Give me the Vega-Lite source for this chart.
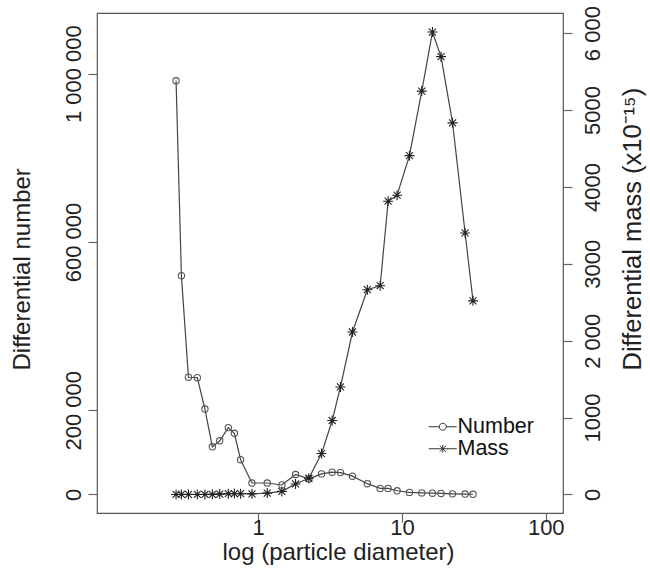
{
  "$schema": "https://vega.github.io/schema/vega-lite/v6.json",
  "width": 466,
  "height": 500,
  "autosize": "none",
  "padding": {"left": 97, "top": 13, "right": 87, "bottom": 60},
  "background": "white",
  "config": {
    "font": "Liberation Sans",
    "view": {"stroke": "#555", "strokeWidth": 1.2},
    "axis": {
      "domain": false, "grid": false,
      "tickColor": "#666", "tickSize": 9, "tickWidth": 1.2,
      "labelFont": "Liberation Sans", "labelFontSize": 22, "labelColor": "#222",
      "titleFont": "Liberation Sans", "titleFontSize": 24, "titleFontWeight": "normal", "titleColor": "#222"
    },
    "legend": {
      "labelFont": "Liberation Sans", "labelFontSize": 21.5, "labelColor": "#111",
      "symbolSize": 400, "symbolStrokeColor": "#333", "symbolFillColor": "transparent", "symbolStrokeWidth": 1,
      "rowPadding": -1, "padding": 0, "labelOffset": 4
    }
  },
  "data": {
    "values": [
      {"d": 0.269, "number": 983000, "mass": 0},
      {"d": 0.293, "number": 520000, "mass": 0},
      {"d": 0.328, "number": 278600, "mass": 0},
      {"d": 0.378, "number": 277500, "mass": 0},
      {"d": 0.427, "number": 203000, "mass": 0},
      {"d": 0.481, "number": 113300, "mass": 2},
      {"d": 0.541, "number": 127600, "mass": 5},
      {"d": 0.621, "number": 158900, "mass": 10},
      {"d": 0.684, "number": 145400, "mass": 12},
      {"d": 0.756, "number": 82700, "mass": 10},
      {"d": 0.906, "number": 27300, "mass": 8},
      {"d": 1.158, "number": 27300, "mass": 18},
      {"d": 1.463, "number": 22600, "mass": 40},
      {"d": 1.821, "number": 47500, "mass": 137},
      {"d": 2.254, "number": 37000, "mass": 211},
      {"d": 2.761, "number": 48900, "mass": 532},
      {"d": 3.275, "number": 53000, "mass": 962},
      {"d": 3.74, "number": 52000, "mass": 1398},
      {"d": 4.53, "number": 43500, "mass": 2113},
      {"d": 5.75, "number": 25700, "mass": 2663},
      {"d": 7.06, "number": 14500, "mass": 2715},
      {"d": 8.02, "number": 14500, "mass": 3814},
      {"d": 9.26, "number": 8800, "mass": 3892},
      {"d": 11.28, "number": 5000, "mass": 4407},
      {"d": 13.74, "number": 3800, "mass": 5246},
      {"d": 16.3, "number": 3000, "mass": 6014},
      {"d": 18.7, "number": 2500, "mass": 5694},
      {"d": 22.5, "number": 1500, "mass": 4833},
      {"d": 27.5, "number": 1000, "mass": 3401},
      {"d": 31.2, "number": 500, "mass": 2518}
    ]
  },
  "encoding": {
    "x": {
      "field": "d", "type": "quantitative",
      "scale": {"type": "log", "domain": [0.07586, 131.8], "nice": false},
      "axis": {
        "values": [1, 10, 100], "labelExpr": "'' + datum.value",
        "labelPadding": -5, "labelBaseline": "top",
        "title": "log (particle diameter)",
        "titleX": 241, "titleY": 46, "titleAlign": "center", "titleBaseline": "alphabetic"
      }
    }
  },
  "layer": [
    {
      "encoding": {
        "y": {
          "field": "number", "type": "quantitative",
          "scale": {"domain": [-44000, 1144000], "nice": false, "zero": false},
          "axis": {
            "orient": "left",
            "values": [0, 200000, 600000, 1000000],
            "labelExpr": "datum.value == 1000000 ? '1 000 000' : datum.value == 600000 ? '600 000' : datum.value == 200000 ? '200 000' : '0'",
            "labelAngle": 270, "labelAlign": "center", "labelBaseline": "alphabetic", "labelPadding": 8,
            "title": "Differential number",
            "titleAngle": 270, "titleX": -75, "titleY": 357, "titleAlign": "left", "titleBaseline": "middle"
          }
        }
      },
      "layer": [
        {"mark": {"type": "line", "color": "#444", "strokeWidth": 1.2}},
        {"mark": {"type": "point", "shape": "circle", "size": 40, "filled": false, "stroke": "#555", "strokeWidth": 1.1, "opacity": 1}}
      ]
    },
    {
      "encoding": {
        "y": {
          "field": "mass", "type": "quantitative",
          "scale": {"domain": [-241, 6262], "nice": false, "zero": false},
          "axis": {
            "orient": "right",
            "values": [0, 1000, 2000, 3000, 4000, 5000, 6000],
            "labelExpr": "datum.value == 2000 ? '2 000' : datum.value == 6000 ? '6 000' : '' + datum.value",
            "labelAngle": 270, "labelAlign": "center", "labelBaseline": "top", "labelPadding": 10,
            "title": "Differential mass (x10⁻¹⁵)",
            "titleFontSize": 25.5,
            "titleAngle": 270, "titleX": 69, "titleY": 357, "titleAlign": "left", "titleBaseline": "middle"
          }
        }
      },
      "layer": [
        {"mark": {"type": "line", "color": "#444", "strokeWidth": 1.2}},
        {"mark": {"type": "point", "shape": "M-1,0H1M0,-1V1M-0.7,-0.7L0.7,0.7M-0.7,0.7L0.7,-0.7", "size": 100, "filled": false, "stroke": "#222", "strokeWidth": 1.1, "opacity": 1}},
        {
          "transform": [{"filter": "false"}],
          "mark": {"type": "point", "filled": false, "color": "#333", "opacity": 1},
          "encoding": {
            "shape": {
              "field": "series", "type": "nominal",
              "scale": {
                "domain": ["Number", "Mass"],
                "range": [
                  "M-1.4,0H-0.35M0.35,0H1.4M0.35,0A0.35,0.35 0 1,1 -0.35,0A0.35,0.35 0 1,1 0.35,0Z",
                  "M-1.4,0H1.4M0,-0.38V0.38M-0.3,-0.3L0.3,0.3M-0.3,0.3L0.3,-0.3"
                ]
              },
              "legend": {"title": null, "orient": "none", "legendX": 335, "legendY": 403, "symbolOpacity": 1}
            }
          }
        }
      ]
    }
  ],
  "resolve": {"scale": {"y": "independent"}}
}
